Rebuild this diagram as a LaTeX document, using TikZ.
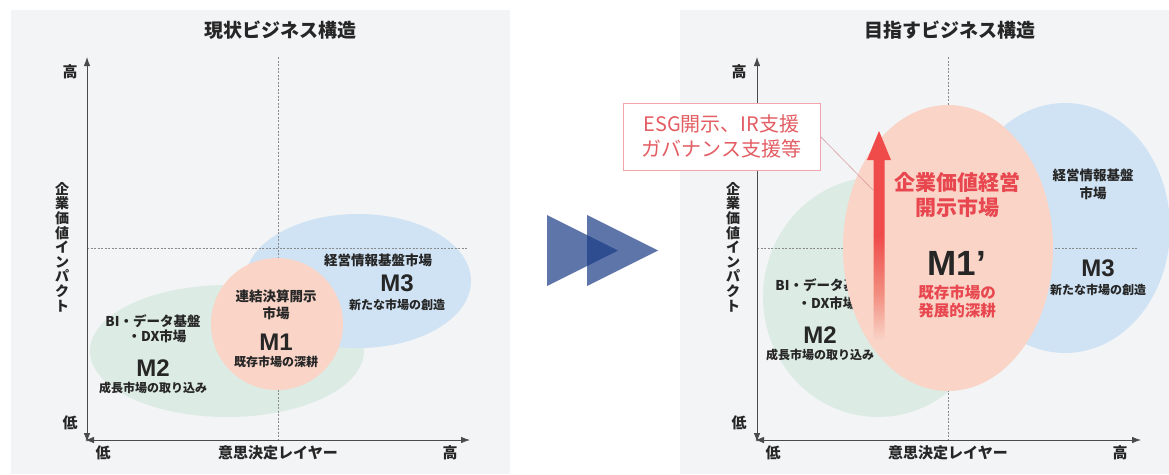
\documentclass[tikz,border=0pt]{standalone}
\usepackage{fontspec}
\setmainfont{Noto Sans CJK JP}
\newfontfamily\lat{Liberation Sans}
\usetikzlibrary{arrows.meta}
\definecolor{panelbg}{HTML}{F3F4F6}
\definecolor{greenfill}{HTML}{DCEBE4}
\definecolor{bluefill}{HTML}{CFE3F4}
\definecolor{pinkfill}{HTML}{F9D4C7}
\definecolor{txt}{HTML}{262626}
\definecolor{axisc}{HTML}{4A4A4A}
\definecolor{dashc}{HTML}{8A8A8A}
\definecolor{redtxt}{HTML}{E8474F}
\definecolor{esgred}{HTML}{E35D63}
\definecolor{esgborder}{HTML}{F2A5AD}
\definecolor{tri}{RGB}{26,59,134}
\definecolor{arrowred}{HTML}{EF4B4B}
\definecolor{arrowmid}{HTML}{F28E80}
\pgfdeclareverticalshading{arrowshade}{100bp}{color(0bp)=(pinkfill); color(25bp)=(pinkfill); color(36bp)=(arrowmid); color(50bp)=(arrowred); color(100bp)=(arrowred)}
\tikzset{
  panel/.style={fill=panelbg, draw=none},
  ttl/.style={font=\bfseries\fontsize{19}{22}\selectfont, text=txt},
  axl/.style={font=\bfseries\fontsize{15}{18}\selectfont, text=txt},
  vlab/.style={font=\bfseries\fontsize{14}{14.6}\selectfont, text=txt, align=center},
  axisline/.style={draw=axisc, line width=0.8pt, {Latex[length=9pt,width=6.5pt]}-{Latex[length=9pt,width=6.5pt]}},
  dashline/.style={draw=dashc, line width=0.6pt, dash pattern=on 2pt off 1.5pt},
  mtxt/.style={font=\bfseries\fontsize{13.5}{16}\selectfont, text=txt, align=center},
  stxt/.style={font=\bfseries\fontsize{12}{14}\selectfont, text=txt, align=center},
  bigm/.style={font=\lat\bfseries\fontsize{24}{26}\selectfont, text=txt},
  tribox/.style={fill=tri, fill opacity=0.7, draw=none},
  redbig/.style={font=\bfseries\fontsize{21}{25}\selectfont, text=redtxt, align=center},
  redmid/.style={font=\bfseries\fontsize{15.5}{18}\selectfont, text=redtxt, align=center},
  esgbox/.style={draw=esgborder, line width=0.8pt, fill=white, minimum width=197pt, minimum height=67pt, align=center, font=\fontsize{20}{25}\selectfont, text=esgred, inner sep=0pt},
}
\begin{document}
\begin{tikzpicture}[x=1pt,y=-1pt]
\useasboundingbox (0,0) rectangle (1169,474);
\fill[white] (0,0) rectangle (1169,474);
% ---------------- left panel ----------------
\path[panel] (11,10) rectangle (510,474);
\node[ttl] (t1) at (280,30) {現状ビジネス構造};
\fill[greenfill] (227,351) ellipse [x radius=137, y radius=66];
\fill[bluefill] (358,281) ellipse [x radius=113, y radius=67];
\coordinate (dv1a) at (278,57);
\coordinate (dv1b) at (278,440);
\coordinate (dh1a) at (87,248);
\coordinate (dh1b) at (468,248);
\draw[dashline] (dv1a) -- (dv1b);
\draw[dashline] (dh1a) -- (dh1b);
\fill[pinkfill] (277,324) circle [radius=66];
\coordinate (o1y) at (87,442);
\coordinate (top1) at (87,57);
\coordinate (o1x) at (85,440);
\coordinate (xe1) at (470,440);
\draw[axisline] (top1) -- (o1y);
\draw[axisline] (o1x) -- (xe1);
\node[axl] (hi1y) at (70,72) {高};
\node[axl] (lo1y) at (70,423) {低};
\node[axl] (lo1x) at (103,453) {低};
\node[axl] (xl1) at (278,453) {意思決定レイヤー};
\node[axl] (hi1x) at (450,453) {高};
\node[vlab] (yl1) at (62,247) {企\\業\\価\\値\\イ\\ン\\パ\\ク\\ト};
\node[mtxt, font=\bfseries\fontsize{13.5}{15}\selectfont] (m2a) at (153,329) {BI・データ基盤\\\hspace*{8pt}・DX市場};
\node[bigm] (m2) at (153,368) {M2};
\node[stxt] (m2b) at (153,388) {成長市場の取り込み};
\node[mtxt, font=\bfseries\fontsize{13.5}{17}\selectfont] (m1a) at (276,304.5) {連結決算開示\\市場};
\node[bigm] (m1) at (276,342) {M1};
\node[stxt] (m1b) at (276,362) {既存市場の深耕};
\node[mtxt] (m3a) at (378,260) {経営情報基盤市場};
\node[bigm] (m3) at (397,283) {M3};
\node[stxt] (m3b) at (397,305) {新たな市場の創造};
% ---------------- middle arrows ----------------
\path[tribox] (547,215) -- (547,286) -- (618,250.5) -- cycle;
\path[tribox] (587,215) -- (587,286) -- (658,250.5) -- cycle;
% ---------------- right panel ----------------
\path[panel] (680,10) rectangle (1169,474);
\node[ttl] (t2) at (950,30) {目指すビジネス構造};
\begin{scope}
\clip (680,10) rectangle (1169,474);
\fill[greenfill] (878,297) ellipse [x radius=115, y radius=120];
\fill[bluefill] (1065,228) ellipse [x radius=105, y radius=125];
\end{scope}
\coordinate (dv2a) at (948,57);
\coordinate (dv2b) at (948,440);
\coordinate (dh2a) at (757,248);
\coordinate (dh2b) at (1138,248);
\draw[dashline] (dv2a) -- (dv2b);
\draw[dashline] (dh2a) -- (dh2b);
\node[mtxt, font=\bfseries\fontsize{13.5}{18}\selectfont] (n2a) at (823,294) {BI・データ基盤\\\hspace*{8pt}・DX市場};
\node[bigm] (n2) at (820,335) {M2};
\node[stxt] (n2b) at (820,355) {成長市場の取り込み};
\fill[pinkfill] (948,248) ellipse [x radius=105, y radius=143];
\shade[shading=arrowshade] (873.5,340) -- (873.5,160) -- (867,160) -- (879,131) -- (891,160) -- (884.5,160) -- (884.5,340) -- cycle;
\coordinate (arrowpt) at (873,190);
\node[redbig] (n1a) at (957,194.5) {企業価値経営\\開示市場};
\node[font=\lat\bfseries\fontsize{35}{38}\selectfont, text=txt] (n1) at (957,263) {M1’};
\node[redmid] (n1b) at (957,301.5) {既存市場の\\発展的深耕};
\node[mtxt, font=\bfseries\fontsize{13.5}{18}\selectfont] (n3a) at (1093,184) {経営情報基盤\\市場};
\node[bigm] (n3) at (1098,268) {M3};
\node[stxt] (n3b) at (1098,290) {新たな市場の創造};
\coordinate (o2y) at (757,442);
\coordinate (top2) at (757,57);
\coordinate (o2x) at (755,440);
\coordinate (xe2) at (1141,440);
\draw[axisline] (top2) -- (o2y);
\draw[axisline] (o2x) -- (xe2);
\node[axl] (hi2y) at (739,72) {高};
\node[axl] (lo2y) at (739,423) {低};
\node[axl] (lo2x) at (773,453) {低};
\node[axl] (xl2) at (948,453) {意思決定レイヤー};
\node[axl] (hi2x) at (1120,453) {高};
\node[vlab] (yl2) at (733,247) {企\\業\\価\\値\\イ\\ン\\パ\\ク\\ト};
\node[esgbox] (esg) at (721.5,136.5) {ESG開示、IR支援\\ガバナンス支援等};
\draw[draw=esgborder!80!gray, line width=0.6pt] (esg.east) -- (arrowpt);
\end{tikzpicture}
\end{document}
